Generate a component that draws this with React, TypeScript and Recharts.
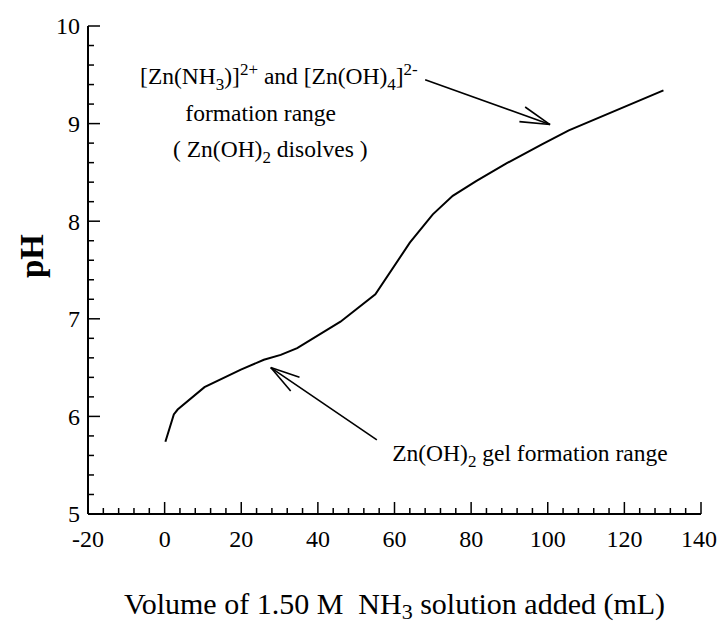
import React from 'react';
import { LineChart, Line, XAxis, YAxis, ReferenceLine, ReferenceDot } from 'recharts';

// Titration curve: volume of 1.50 M NH3 added (mL) vs pH
const volume = [0.2, 2.4, 3.4, 10.4, 19.9, 25.9, 30.3, 34.6, 45.9, 55.0, 64.0, 70.0, 75.2, 81.3, 89.1, 98.6, 105.5, 130.2];
const phValues = [5.74, 6.02, 6.07, 6.30, 6.48, 6.58, 6.63, 6.70, 6.97, 7.25, 7.78, 8.07, 8.26, 8.41, 8.59, 8.79, 8.93, 9.34];

const xMajorTicks = [-20, 0, 20, 40, 60, 80, 100, 120, 140];
const xMinorStep = 4;
const yMajorTicks = [5, 6, 7, 8, 9, 10];
const yMinorStep = 0.2;

// Annotation arrows (data coordinates): [from, to]
const arrowUpper = [{ x: 68.0, y: 9.45 }, { x: 100.6, y: 8.99 }];
const arrowUpperHead = [{ x: 94.1, y: 9.17 }, { x: 92.6, y: 9.02 }];
const arrowLower = [{ x: 55.4, y: 5.76 }, { x: 27.7, y: 6.5 }];
const arrowLowerHead = [{ x: 35.2, y: 6.4 }, { x: 32.9, y: 6.26 }];

// Annotation text anchors (data coordinates, left/baseline)
const labelLine1 = { x: -6.4, y: 9.41 };
const labelLine2 = { x: 5.4, y: 9.03, text: 'formation range' };
const labelLine3 = { x: 2.2, y: 8.66 };
const labelGel = { x: 59.4, y: 5.54 };

const xAxisTitle = 'Volume of 1.50 M  NH';
const xAxisTitleEnd = ' solution added (mL)';
const yAxisTitle = 'pH';

const FONT = "'Liberation Serif', 'Times New Roman', serif";

const data = volume.map((v, i) => ({ v, ph: phValues[i] }));

const buildTicks = (majors: number[], step: number) => {
  const lo = majors[0];
  const hi = majors[majors.length - 1];
  const n = Math.round((hi - lo) / step);
  const out: number[] = [];
  for (let i = 0; i <= n; i++) out.push(Math.round((lo + i * step) * 1000) / 1000);
  return out;
};
const xTicks = buildTicks(xMajorTicks, xMinorStep);
const yTicks = buildTicks(yMajorTicks, yMinorStep);

const isMajor = (majors: number[], v: number) => majors.some((m) => Math.abs(m - v) < 1e-6);

const makeTick = (orient: 'bottom' | 'top' | 'left' | 'right', majors: number[], showLabel: boolean) =>
  (props: any) => {
    const { x, y, payload } = props;
    const val = payload.value;
    const major = isMajor(majors, val);
    const len = major ? 12 : 6;
    let x2 = x;
    let y2 = y;
    if (orient === 'bottom') y2 = y - len;
    if (orient === 'top') y2 = y + len;
    if (orient === 'left') x2 = x + len;
    if (orient === 'right') x2 = x - len;
    let label = null;
    if (showLabel && major) {
      if (orient === 'bottom') {
        const last = val === majors[majors.length - 1];
        label = (
          <text
            x={last ? x + 16 : x}
            y={y + 33}
            textAnchor={last ? 'end' : 'middle'}
            fontFamily={FONT}
            fontSize={24}
            fill="#000"
          >
            {val}
          </text>
        );
      } else if (orient === 'left') {
        label = (
          <text x={x - 8} y={y} dy="0.35em" textAnchor="end" fontFamily={FONT} fontSize={24} fill="#000">
            {val}
          </text>
        );
      }
    }
    return (
      <g>
        <line x1={x} y1={y} x2={x2} y2={y2} stroke="#000" strokeWidth={1.5} />
        {label}
      </g>
    );
  };

const MAIN = 23.5;
const SUB = 17;

const renderLine1 = (p: any) => (
  <text x={p.cx} y={p.cy} fontFamily={FONT} fontSize={MAIN} fill="#000">
    {'[Zn(NH'}
    <tspan dy={6} fontSize={SUB}>3</tspan>
    <tspan dy={-6}>{')]'}</tspan>
    <tspan dy={-9} fontSize={SUB}>2+</tspan>
    <tspan dy={9}>{' and [Zn(OH)'}</tspan>
    <tspan dy={6} fontSize={SUB}>4</tspan>
    <tspan dy={-6}>{']'}</tspan>
    <tspan dy={-9} fontSize={SUB}>2-</tspan>
  </text>
);

const renderLine2 = (p: any) => (
  <text x={p.cx} y={p.cy} fontFamily={FONT} fontSize={MAIN} fill="#000">
    {labelLine2.text}
  </text>
);

const renderLine3 = (p: any) => (
  <text x={p.cx} y={p.cy} fontFamily={FONT} fontSize={MAIN} fill="#000" style={{ whiteSpace: 'pre' }}>
    {'( Zn(OH)'}
    <tspan dy={6} fontSize={SUB}>2</tspan>
    <tspan dy={-6}>{' disolves )'}</tspan>
  </text>
);

const renderGel = (p: any) => (
  <text x={p.cx} y={p.cy} fontFamily={FONT} fontSize={MAIN} fill="#000">
    {'Zn(OH)'}
    <tspan dy={6} fontSize={SUB}>2</tspan>
    <tspan dy={-6}>{' gel formation range'}</tspan>
  </text>
);

const XTitle = (props: any) => {
  const vb = props.viewBox || { x: 88, y: 514, width: 613, height: 113 };
  return (
    <text
      x={vb.x + vb.width / 2}
      y={vb.y + 100}
      textAnchor="middle"
      fontFamily={FONT}
      fontSize={30}
      fill="#000"
      style={{ whiteSpace: 'pre' }}
    >
      {xAxisTitle}
      <tspan dy={5} fontSize={22}>3</tspan>
      <tspan dy={-5}>{xAxisTitleEnd}</tspan>
    </text>
  );
};

const YTitle = (props: any) => {
  const vb = props.viewBox || { x: 0, y: 26, width: 88, height: 488 };
  const cx = vb.x + 43;
  const cy = vb.y + vb.height / 2 - 14;
  return (
    <text
      x={cx}
      y={cy}
      transform={`rotate(-90, ${cx}, ${cy})`}
      textAnchor="middle"
      fontFamily={FONT}
      fontSize={33}
      fontWeight="bold"
      fill="#000"
    >
      {yAxisTitle}
    </text>
  );
};

const ids = { xAxisId: 'b', yAxisId: 'l' } as const;

export default function App() {
  return (
    <div style={{ position: 'absolute', left: 0, top: 0, width: 717, height: 627, background: '#fff' }}>
      <LineChart width={717} height={627} data={data} margin={{ top: 26, right: 16, bottom: 0, left: 0 }}>
        <XAxis
          xAxisId="b"
          dataKey="v"
          type="number"
          domain={[-20, 140]}
          ticks={xTicks}
          interval={0}
          orientation="bottom"
          height={113}
          tickSize={0}
          tickMargin={0}
          tickLine={false}
          axisLine={{ stroke: '#000', strokeWidth: 2 }}
          tick={makeTick('bottom', xMajorTicks, true)}
          allowDataOverflow
          label={{ content: XTitle }}
        />
        <XAxis
          xAxisId="t"
          dataKey="v"
          type="number"
          domain={[-20, 140]}
          ticks={xTicks}
          interval={0}
          orientation="top"
          height={0}
          tickSize={0}
          tickMargin={0}
          tickLine={false}
          axisLine={{ stroke: '#000', strokeWidth: 2 }}
          tick={makeTick('top', xMajorTicks, false)}
          allowDataOverflow
        />
        <YAxis
          yAxisId="l"
          type="number"
          domain={[5, 10]}
          ticks={yTicks}
          interval={0}
          orientation="left"
          width={88}
          tickSize={0}
          tickMargin={0}
          tickLine={false}
          axisLine={{ stroke: '#000', strokeWidth: 2 }}
          tick={makeTick('left', yMajorTicks, true)}
          allowDataOverflow
          label={{ content: YTitle }}
        />
        <YAxis
          yAxisId="r"
          type="number"
          domain={[5, 10]}
          ticks={yTicks}
          interval={0}
          orientation="right"
          width={0}
          tickSize={0}
          tickMargin={0}
          tickLine={false}
          axisLine={{ stroke: '#000', strokeWidth: 2 }}
          tick={makeTick('right', yMajorTicks, false)}
          allowDataOverflow
        />
        <Line
          {...ids}
          type="linear"
          dataKey="ph"
          stroke="#000"
          strokeWidth={2}
          dot={false}
          isAnimationActive={false}
        />
        <ReferenceLine {...ids} segment={arrowUpper} stroke="#000" strokeWidth={1.6} ifOverflow="visible" />
        <ReferenceLine {...ids} segment={[arrowUpper[1], arrowUpperHead[0]]} stroke="#000" strokeWidth={1.6} ifOverflow="visible" />
        <ReferenceLine {...ids} segment={[arrowUpper[1], arrowUpperHead[1]]} stroke="#000" strokeWidth={1.6} ifOverflow="visible" />
        <ReferenceLine {...ids} segment={arrowLower} stroke="#000" strokeWidth={1.6} ifOverflow="visible" />
        <ReferenceLine {...ids} segment={[arrowLower[1], arrowLowerHead[0]]} stroke="#000" strokeWidth={1.6} ifOverflow="visible" />
        <ReferenceLine {...ids} segment={[arrowLower[1], arrowLowerHead[1]]} stroke="#000" strokeWidth={1.6} ifOverflow="visible" />
        <ReferenceDot {...ids} x={labelLine1.x} y={labelLine1.y} r={0} ifOverflow="visible" shape={renderLine1} />
        <ReferenceDot {...ids} x={labelLine2.x} y={labelLine2.y} r={0} ifOverflow="visible" shape={renderLine2} />
        <ReferenceDot {...ids} x={labelLine3.x} y={labelLine3.y} r={0} ifOverflow="visible" shape={renderLine3} />
        <ReferenceDot {...ids} x={labelGel.x} y={labelGel.y} r={0} ifOverflow="visible" shape={renderGel} />
      </LineChart>
    </div>
  );
}
